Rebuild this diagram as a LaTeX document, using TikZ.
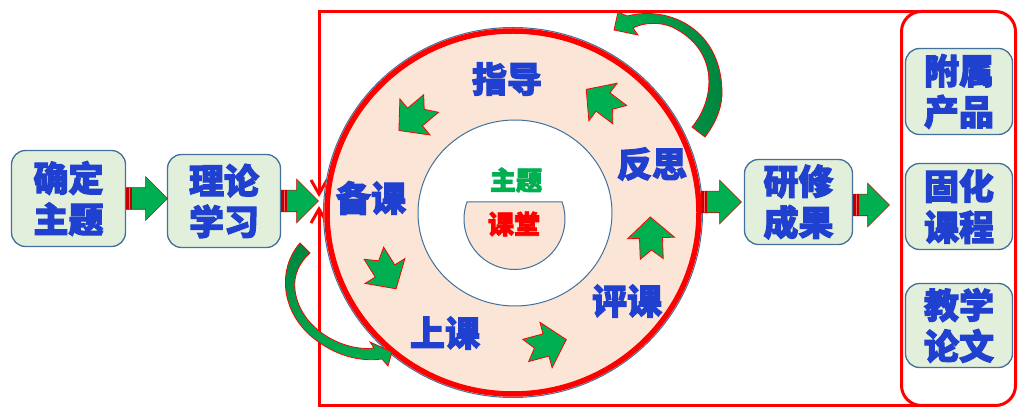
\documentclass[tikz,border=0pt]{standalone}
\usepackage{fontspec}
\usepackage{tikz}
\usetikzlibrary{positioning,shapes.geometric,shapes.arrows,arrows.meta}
\newfontfamily\cjk{Noto Sans CJK SC}[BoldFeatures={FakeBold=3}]
\definecolor{boxfill}{HTML}{E2EFDA}
\definecolor{boxline}{HTML}{41719C}
\definecolor{peach}{HTML}{FBE5D6}
\definecolor{textblue}{RGB}{32,64,208}
\definecolor{flowgreen}{HTML}{00B050}
\definecolor{deepgreen}{HTML}{00843F}
\definecolor{stripered}{HTML}{C00000}

\tikzset{
  flow/.pic={\draw[draw=red, line width=0.8pt, fill=flowgreen]
    (21,0) -- (0,23.5) -- (0,11.5) -- (-21,11.5) -- (-12,0) -- (-21,-11.5) -- (0,-11.5) -- (0,-23.5) -- cycle;}
}

\begin{document}
\begin{tikzpicture}[x=1pt, y=-1pt,
    box/.style={draw=boxline, fill=boxfill, line width=1.3pt, rounded corners=14pt, align=center,
      text=textblue, font=\cjk\bfseries\fontsize{35}{41}\selectfont, inner sep=0pt},
    ringtext/.style={text=textblue, font=\cjk\bfseries\fontsize{35}{41}\selectfont, inner sep=0pt},
    blockarrow/.style={single arrow, draw=red!80!black, line width=0.6pt, fill=flowgreen, inner xsep=0pt, inner ysep=10.5pt,
      minimum width=43pt, single arrow head extend=11pt,
      path picture={\fill[stripered] (path picture bounding box.north west) rectangle ([xshift=6pt]path picture bounding box.south west);
        \draw[red!60, line width=0.7pt] ([xshift=3pt]path picture bounding box.north west) -- ([xshift=3pt]path picture bounding box.south west);}},
    frameline/.style={draw=red, line width=3pt},
    curved/.style={draw=red, line width=0.8pt}]
  \useasboundingbox (0,0) rectangle (1028,419);

  % red frame round the cycle
  \node[draw=red, line width=3pt, rounded corners=20pt, outer sep=0pt, minimum width=114, minimum height=394] (results) at (958.5,208.5) {};
  \coordinate (tl) at (319,11.5);
  \coordinate (bl) at (319,405.5);
  \coordinate (inA) at (319,197);
  \coordinate (inB) at (319,206);
  \draw[frameline, -{Straight Barb[length=14pt,width=16pt]}] (results.north) -- (tl) -- (inA);
  \draw[frameline, -{Straight Barb[length=14pt,width=16pt]}] (results.south) -- (bl) -- (inB);

  % left boxes
  \node[box, minimum width=114, minimum height=96] (zt) at (68.5,198.5) {确定\\主题};
  \node[box, minimum width=113, minimum height=93] (ll) at (224,201) {理论\\学习};
  \node[blockarrow, minimum height=41, right=0pt of zt] (a1) {};
  \node[blockarrow, minimum height=37, right=0pt of ll] (a2) {};

  % the ring
  \node[ellipse, draw=boxline, fill=peach, line width=1pt, minimum width=379, minimum height=370, inner sep=0pt] (rim) at (513,212.5) {};
  \node[ellipse, draw=red, line width=5.5pt, minimum width=372, minimum height=363, inner sep=0pt] (ring) at (rim.center) {};
  \node[ellipse, draw=boxline, fill=white, line width=1pt, minimum width=194, minimum height=186, inner sep=0pt] (hole) at (515,213) {};
  \draw[draw=boxline, fill=peach, line width=1pt] (514.5,219) ++(-19.7:50.5) arc[start angle=-19.7, end angle=199.7, radius=50.5] -- cycle;
  \node[text=flowgreen, font=\cjk\bfseries\fontsize{26}{30}\selectfont, inner sep=0pt] (topic) at (516,180) {主题};
  \node[text=red, font=\cjk\bfseries\fontsize{26}{30}\selectfont, inner sep=0pt] (room) at (514,224) {课堂};

  \node[ringtext] (zd) at (507,79) {指导};
  \node[ringtext] (fx) at (652,164) {反思};
  \node[ringtext] (pk) at (627,301) {评课};
  \node[ringtext] (sk) at (445,333) {上课};
  \node[ringtext] (bk) at (371,198) {备课};

  \pic[rotate=220] at (415,117) {flow};
  \pic[rotate=143] at (603,102) {flow};
  \pic[rotate=92] at (651,238) {flow};
  \pic[rotate=15] at (546,345) {flow};
  \pic[rotate=-58] at (385,271) {flow};

  % curved arrows outside the ring
  \draw[curved, left color=flowgreen, right color=deepgreen] (614,30) -- (618,12) -- (627,16)
    .. controls (670,5) and (723,30) .. (722,95) .. controls (721,112) and (714,125) .. (705,137) -- (692,127)
    .. controls (715,100) and (720,50) .. (672,27) .. controls (660,22) and (645,22) .. (633,28) -- (638,35) -- cycle;
  \draw[curved, top color=deepgreen, bottom color=flowgreen] (300,243) .. controls (278,268) and (280,310) .. (312,337)
    .. controls (335,356) and (360,362) .. (382,359) -- (388,366) -- (392,352) -- (370,342) -- (374,348)
    .. controls (345,352) and (300,330) .. (295,290) .. controls (293,275) and (300,262) .. (310,253) -- cycle;

  % results
  \node[box, minimum width=108, minimum height=85] (yc) at (798.5,202) {研修\\成果};
  \node[blockarrow, minimum height=40, left=2pt of yc] (a3) {};
  \node[blockarrow, minimum height=36, right=0pt of yc, yshift=-3pt] (a4) {};
  \node[box, minimum width=107, minimum height=86] (fu) at (959,91.5) {附属\\产品};
  \node[box, minimum width=107, minimum height=86] (gu) at (959,206.5) {固化\\课程};
  \node[box, minimum width=107, minimum height=84] (lw) at (959,325.5) {教学\\论文};
\end{tikzpicture}
\end{document}
